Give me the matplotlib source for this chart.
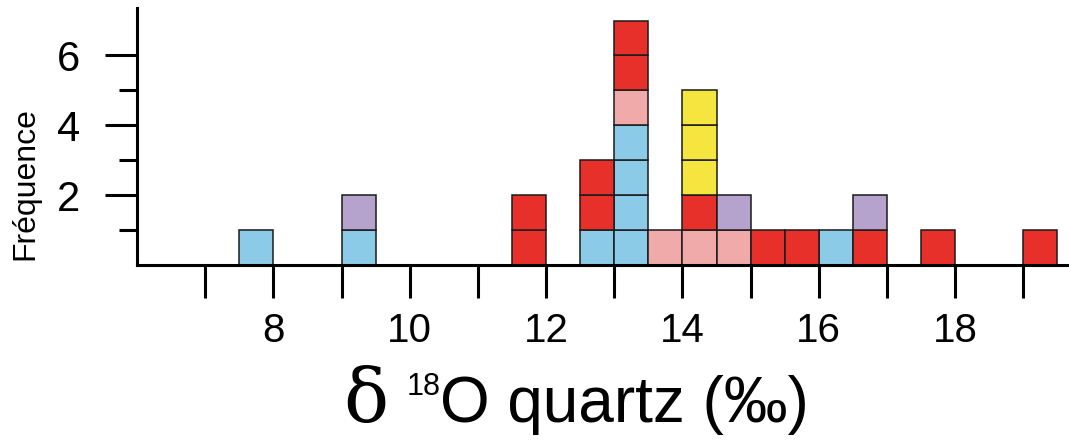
import matplotlib
matplotlib.use("Agg")
import matplotlib.pyplot as plt
from matplotlib.ticker import FixedLocator

plt.rcParams['font.family'] = ['Liberation Sans', 'DejaVu Sans']

# Bin left edges (bin width 0.5 permil)
bin_left = [7.5, 9.0, 11.5, 12.5, 13.0, 13.5, 14.0, 14.5, 15.0, 15.5, 16.0, 16.5, 17.5, 19.0]
bin_width = 0.5

# Counts per group (stacked bottom -> top in this order)
blue   = [1, 1, 0, 1, 4, 0, 0, 0, 0, 0, 1, 0, 0, 0]
pink   = [0, 0, 0, 0, 1, 1, 1, 1, 0, 0, 0, 0, 0, 0]
red    = [0, 0, 2, 2, 2, 0, 1, 0, 1, 1, 0, 1, 1, 1]
yellow = [0, 0, 0, 0, 0, 0, 3, 0, 0, 0, 0, 0, 0, 0]
purple = [0, 1, 0, 0, 0, 0, 0, 1, 0, 0, 0, 1, 0, 0]

groups = [blue, pink, red, yellow, purple]
group_colors = ['#8ccbe8', '#f0aaaa', '#e8302a', '#f6e53e', '#b5a3cd']

x_major = [7, 8, 9, 10, 11, 12, 13, 14, 15, 16, 17, 18, 19]
x_labels = ['', '8', '', '10', '', '12', '', '14', '', '16', '', '18', '']
y_major = [2, 4, 6]
y_minor = [1, 3, 5]

W, H = 1069, 443
fig = plt.figure(figsize=(W / 100, H / 100), dpi=100)
ax = fig.add_axes([137 / W, (H - 265) / H, (W - 137) / W, (265 - 8) / H])

heights = [0] * len(bin_left)
for counts, col in zip(groups, group_colors):
    for i, c in enumerate(counts):
        for _ in range(c):
            ax.bar(bin_left[i], 1, width=bin_width, bottom=heights[i], align='edge',
                   color=col, edgecolor='#1a1a1a', linewidth=1.1, zorder=2)
            heights[i] += 1

ax.set_xlim(6, 19.67)
ax.set_ylim(0, 7.36)

for s in ['top', 'right']:
    ax.spines[s].set_visible(False)
for s in ['left', 'bottom']:
    ax.spines[s].set_linewidth(2.2)
    ax.spines[s].set_zorder(3)

ax.xaxis.set_major_locator(FixedLocator(x_major))
ax.set_xticklabels(x_labels)
ax.yaxis.set_major_locator(FixedLocator(y_major))
ax.yaxis.set_minor_locator(FixedLocator(y_minor))
ax.set_yticklabels([str(v) for v in y_major])

ax.tick_params(axis='x', which='major', direction='out', length=24, width=2.2,
               labelsize=29, pad=10)
ax.tick_params(axis='y', which='major', direction='out', length=23, width=2.2,
               labelsize=30, pad=18)
ax.tick_params(axis='y', which='minor', direction='out', length=13, width=2.2)

# y label
fig.text(25 / W, 1 - 184 / H, 'Fréquence', rotation=90, ha='center', va='center',
         fontsize=23)

# x label: delta (serif) + superscript 18 + rest
base_y = 1 - 422 / H
fig.text(343 / W, base_y, 'δ', fontsize=54, family=['DejaVu Serif'],
         ha='left', va='baseline')
fig.text(407 / W, 1 - 395 / H, '18', fontsize=22, ha='left', va='baseline')
fig.text(440 / W, base_y, 'O quartz (‰)', fontsize=46, ha='left', va='baseline')

fig.savefig('out.png', dpi=100)
